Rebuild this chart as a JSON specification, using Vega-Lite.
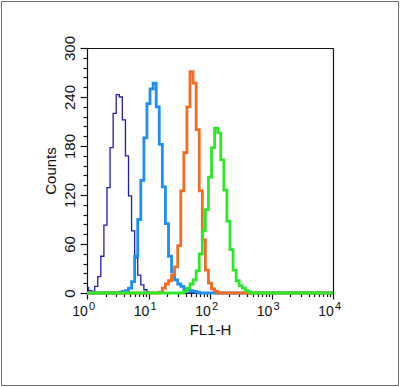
{
  "$schema": "https://vega.github.io/schema/vega-lite/v6.json",
  "width": 397,
  "height": 384,
  "padding": 1,
  "autosize": {"type": "none"},
  "background": "white",
  "config": {
    "font": "Liberation Sans",
    "view": {"stroke": "#707070", "strokeWidth": 1},
    "axis": {"grid": false, "domainColor": "#111", "tickColor": "#111", "labelColor": "#111", "titleColor": "#111", "domainWidth": 1.2, "tickWidth": 1.2}
  },
  "data": {
    "values": [
      {"s": "A", "x": 1, "c": 7}, {"s": "A", "x": 1.122, "c": 3}, {"s": "A", "x": 1.259, "c": 2}, {"s": "A", "x": 1.413, "c": 8},
      {"s": "A", "x": 1.585, "c": 20}, {"s": "A", "x": 1.778, "c": 45}, {"s": "A", "x": 1.995, "c": 83}, {"s": "A", "x": 2.239, "c": 129},
      {"s": "A", "x": 2.512, "c": 178}, {"s": "A", "x": 2.818, "c": 220}, {"s": "A", "x": 3.162, "c": 243}, {"s": "A", "x": 3.548, "c": 240},
      {"s": "A", "x": 3.981, "c": 212}, {"s": "A", "x": 4.467, "c": 168}, {"s": "A", "x": 5.012, "c": 119}, {"s": "A", "x": 5.623, "c": 76},
      {"s": "A", "x": 6.31, "c": 43}, {"s": "A", "x": 7.079, "c": 22}, {"s": "A", "x": 7.943, "c": 10}, {"s": "A", "x": 8.913, "c": 4},
      {"s": "A", "x": 10, "c": 1}, {"s": "A", "x": 11.22, "c": 0}, {"s": "A", "x": 10000, "c": 0},

      {"s": "B", "x": 1, "c": 0}, {"s": "B", "x": 3.162, "c": 0}, {"s": "B", "x": 3.548, "c": 1}, {"s": "B", "x": 3.981, "c": 2},
      {"s": "B", "x": 4.467, "c": 3}, {"s": "B", "x": 5.012, "c": 6}, {"s": "B", "x": 5.623, "c": 14}, {"s": "B", "x": 6.31, "c": 45},
      {"s": "B", "x": 7.079, "c": 90}, {"s": "B", "x": 7.943, "c": 138}, {"s": "B", "x": 8.913, "c": 190}, {"s": "B", "x": 10, "c": 232},
      {"s": "B", "x": 11.22, "c": 250}, {"s": "B", "x": 12.59, "c": 257}, {"s": "B", "x": 14.13, "c": 228}, {"s": "B", "x": 15.85, "c": 182},
      {"s": "B", "x": 17.78, "c": 130}, {"s": "B", "x": 19.95, "c": 85}, {"s": "B", "x": 22.39, "c": 45}, {"s": "B", "x": 25.12, "c": 26},
      {"s": "B", "x": 28.18, "c": 16}, {"s": "B", "x": 31.62, "c": 11}, {"s": "B", "x": 35.48, "c": 8}, {"s": "B", "x": 39.81, "c": 5},
      {"s": "B", "x": 44.67, "c": 4}, {"s": "B", "x": 50.12, "c": 3}, {"s": "B", "x": 56.23, "c": 2}, {"s": "B", "x": 63.1, "c": 1},
      {"s": "B", "x": 70.79, "c": 0}, {"s": "B", "x": 10000, "c": 0},

      {"s": "C", "x": 1, "c": 0}, {"s": "C", "x": 14.13, "c": 0}, {"s": "C", "x": 15.85, "c": 1}, {"s": "C", "x": 17.78, "c": 6},
      {"s": "C", "x": 19.95, "c": 11}, {"s": "C", "x": 22.39, "c": 15}, {"s": "C", "x": 25.12, "c": 22}, {"s": "C", "x": 28.18, "c": 32},
      {"s": "C", "x": 31.62, "c": 58}, {"s": "C", "x": 35.48, "c": 125}, {"s": "C", "x": 39.81, "c": 172}, {"s": "C", "x": 44.67, "c": 228},
      {"s": "C", "x": 50.12, "c": 271}, {"s": "C", "x": 56.23, "c": 257}, {"s": "C", "x": 63.1, "c": 200}, {"s": "C", "x": 70.79, "c": 125},
      {"s": "C", "x": 79.43, "c": 65}, {"s": "C", "x": 89.13, "c": 28}, {"s": "C", "x": 100, "c": 12}, {"s": "C", "x": 112.2, "c": 5},
      {"s": "C", "x": 125.9, "c": 2}, {"s": "C", "x": 141.3, "c": 0}, {"s": "C", "x": 10000, "c": 0},

      {"s": "D", "x": 1, "c": 0}, {"s": "D", "x": 35.48, "c": 0}, {"s": "D", "x": 39.81, "c": 2}, {"s": "D", "x": 44.67, "c": 6},
      {"s": "D", "x": 50.12, "c": 11}, {"s": "D", "x": 56.23, "c": 16}, {"s": "D", "x": 63.1, "c": 27}, {"s": "D", "x": 70.79, "c": 48},
      {"s": "D", "x": 79.43, "c": 76}, {"s": "D", "x": 89.13, "c": 102}, {"s": "D", "x": 100, "c": 142}, {"s": "D", "x": 112.2, "c": 178},
      {"s": "D", "x": 125.9, "c": 202}, {"s": "D", "x": 141.3, "c": 196}, {"s": "D", "x": 158.5, "c": 163}, {"s": "D", "x": 177.8, "c": 126},
      {"s": "D", "x": 199.5, "c": 88}, {"s": "D", "x": 223.9, "c": 53}, {"s": "D", "x": 251.2, "c": 28}, {"s": "D", "x": 281.8, "c": 15},
      {"s": "D", "x": 316.2, "c": 9}, {"s": "D", "x": 354.8, "c": 6}, {"s": "D", "x": 398.1, "c": 3}, {"s": "D", "x": 446.7, "c": 1},
      {"s": "D", "x": 501.2, "c": 0}, {"s": "D", "x": 10000, "c": 0}
    ]
  },
  "layer": [
    {
      "transform": [{"filter": "datum.s === 'A'"}],
      "mark": {"type": "line", "interpolate": "step", "color": "#1f1fa8", "strokeWidth": 1.3},
      "encoding": {
        "x": {"field": "x", "type": "quantitative",
          "scale": {"type": "log", "domain": [1, 10000], "range": [86, 332]},
          "axis": {"orient": "bottom", "offset": -92, "values": [1, 10, 100, 1000, 10000],
            "labelExpr": "'10'", "labelOffset": -7.5,
            "tickSize": 6, "labelFontSize": 14, "labelPadding": 5, "labelFlush": false, "labelOverlap": false,
            "title": "FL1-H", "titleFontSize": 15, "titleFontWeight": "normal", "titlePadding": 4}},
        "y": {"field": "c", "type": "quantitative",
          "scale": {"domain": [0, 300], "range": [292, 47], "nice": false},
          "axis": {"orient": "left", "offset": -86, "values": [0, 60, 120, 180, 240, 300],
            "labelAngle": -90, "labelAlign": "center", "labelBaseline": "bottom",
            "tickSize": 7, "labelFontSize": 15, "labelPadding": 3, "labelFlush": false, "labelOverlap": false,
            "title": "Counts", "titleFontSize": 15, "titleFontWeight": "normal", "titlePadding": 4}}
      }
    },
    {
      "transform": [{"filter": "datum.s === 'B'"}],
      "mark": {"type": "line", "interpolate": "step", "color": "#1e8ef2", "strokeWidth": 2.8},
      "encoding": {
        "x": {"field": "x", "type": "quantitative",
          "scale": {"type": "log", "domain": [1, 10000], "range": [86, 332]},
          "axis": {"orient": "bottom", "offset": -92,
            "values": [2, 3, 4, 5, 6, 7, 8, 9, 20, 30, 40, 50, 60, 70, 80, 90, 200, 300, 400, 500, 600, 700, 800, 900, 2000, 3000, 4000, 5000, 6000, 7000, 8000, 9000],
            "labels": false, "domain": false, "tickSize": 3.5, "title": null}},
        "y": {"field": "c", "type": "quantitative",
          "scale": {"domain": [0, 300], "range": [292, 47], "nice": false},
          "axis": {"orient": "left", "offset": -86,
            "values": [12, 24, 36, 48, 72, 84, 96, 108, 132, 144, 156, 168, 192, 204, 216, 228, 252, 264, 276, 288],
            "labels": false, "domain": false, "tickSize": 4, "title": null}}
      }
    },
    {
      "transform": [{"filter": "datum.s === 'C'"}],
      "mark": {"type": "line", "interpolate": "step", "color": "#f26b22", "strokeWidth": 2.8},
      "encoding": {
        "x": {"field": "x", "type": "quantitative",
          "scale": {"type": "log", "domain": [1, 10000], "range": [86, 332]},
          "axis": {"orient": "top", "offset": -47, "ticks": false, "labels": false, "title": null}},
        "y": {"field": "c", "type": "quantitative",
          "scale": {"domain": [0, 300], "range": [292, 47], "nice": false},
          "axis": {"orient": "right", "offset": -65, "ticks": false, "labels": false, "title": null}}
      }
    },
    {
      "transform": [{"filter": "datum.s === 'D'"}],
      "mark": {"type": "line", "interpolate": "step", "color": "#2de82a", "strokeWidth": 2.8},
      "encoding": {
        "x": {"field": "x", "type": "quantitative",
          "scale": {"type": "log", "domain": [1, 10000], "range": [86, 332]},
          "axis": {"orient": "bottom", "offset": -92, "values": [1, 10, 100, 1000, 10000],
            "labelExpr": "'' + round(log(datum.value) / LN10)", "labelOffset": 4.5,
            "domain": false, "ticks": true, "tickSize": 6, "tickOpacity": 0,
            "labelFontSize": 11, "labelPadding": 1, "labelFlush": false, "labelOverlap": false, "title": null}},
        "y": {"field": "c", "type": "quantitative",
          "scale": {"domain": [0, 300], "range": [292, 47], "nice": false}, "axis": null}
      }
    }
  ],
  "resolve": {"axis": {"x": "independent", "y": "independent"}}
}
